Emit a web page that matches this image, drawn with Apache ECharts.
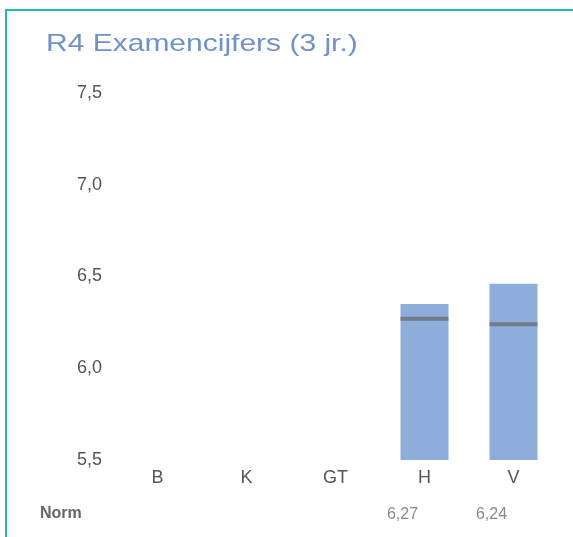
<!DOCTYPE html>
<html>
<head>
<meta charset="utf-8">
<script src="https://cdn.jsdelivr.net/npm/echarts@6/dist/echarts.min.js"></script>
<style>
  html, body { margin: 0; padding: 0; background: #fff; }
  #main { width: 573px; height: 537px; }
</style>
</head>
<body>
<div id="main"></div>
<script>
// categorieen en waarden
var categories = ['B', 'K', 'GT', 'H', 'V'];
var cijfers = [null, null, null, 6.35, 6.46];
var norm = [null, null, null, 6.27, 6.24];
var normLabels = ['', '', '', '6,27', '6,24'];

var chart = echarts.init(document.getElementById('main'));

var font = 'Liberation Sans, Arial, sans-serif';

var option = {
    backgroundColor: '#fff',
    animation: false,
    grid: {
        left: 113,
        right: 15,
        top: 93,
        bottom: 77
    },
    xAxis: [
        {
            type: 'category',
            data: categories,
            axisLine: { show: false },
            axisTick: { show: false },
            axisLabel: {
                margin: 9,
                color: '#555',
                fontSize: 18,
                fontFamily: font
            }
        },
        {
            // norm-rij onder de categorieen
            type: 'category',
            position: 'bottom',
            data: categories,
            axisLine: { show: false },
            axisTick: { show: false },
            axisLabel: {
                margin: 47,
                formatter: function (v, i) {
                    return '{n|' + normLabels[i] + '}';
                },
                rich: {
                    n: {
                        color: '#8a8a8a',
                        fontSize: 16,
                        padding: [0, 44, 0, 0],
                        fontFamily: font
                    }
                }
            }
        }
    ],
    yAxis: {
        type: 'value',
        min: 5.5,
        max: 7.5,
        interval: 0.5,
        splitLine: { show: false },
        axisLine: { show: false },
        axisTick: { show: false },
        axisLabel: {
            margin: 11,
            color: '#555',
            fontSize: 18,
            fontFamily: font,
            formatter: function (v) {
                return v.toFixed(1).replace('.', ',');
            }
        }
    },
    graphic: [
        {
            type: 'polyline',
            shape: { points: [[6, 537], [6, 10], [573, 10]] },
            style: { stroke: '#22b8b4', lineWidth: 2, fill: null }
        },
        {
            // titel, iets breder uitgerekt zoals in het origineel
            type: 'text',
            x: 46,
            y: 32,
            scaleX: 1.25,
            style: {
                text: 'R4 Examencijfers (3 jr.)',
                fill: '#7091ca',
                fontSize: 24,
                fontFamily: font
            }
        },
        {
            type: 'text',
            x: 40,
            y: 506,
            style: {
                text: 'Norm',
                fill: '#666',
                fontSize: 16,
                fontWeight: 'bold',
                fontFamily: font
            }
        }
    ],
    series: [
        {
            type: 'bar',
            data: cijfers,
            barWidth: 48,
            itemStyle: { color: '#8eadda' }
        },
        {
            type: 'scatter',
            data: norm,
            symbol: 'rect',
            symbolSize: [48, 4],
            itemStyle: { color: '#6b7078' },
            z: 5
        }
    ]
};

chart.setOption(option);
</script>
</body>
</html>
